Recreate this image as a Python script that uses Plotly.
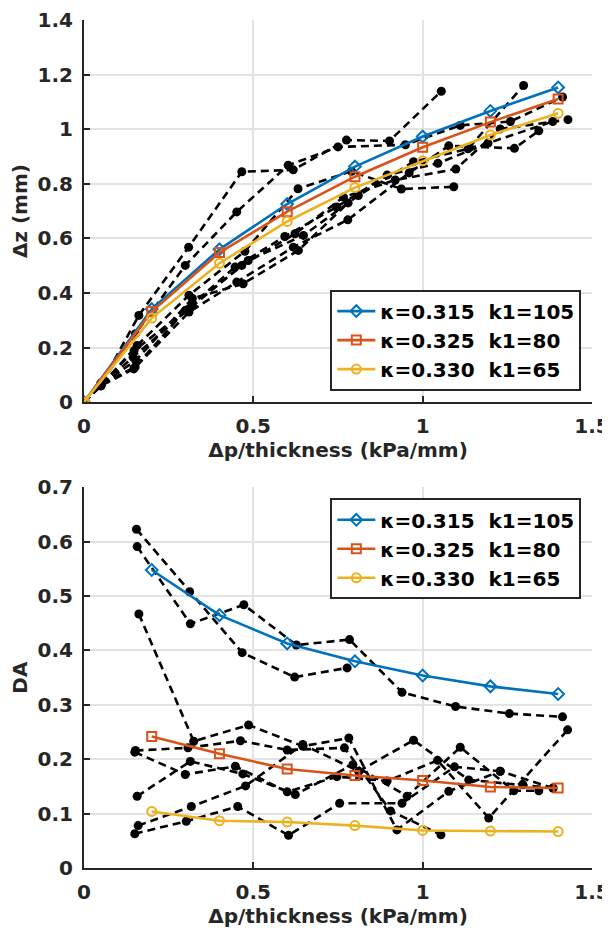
import plotly.graph_objects as go

# ---------------- data ----------------
dp_model = [0, 0.2, 0.4, 0.6, 0.8, 1.0, 1.2, 1.4]
dz_k315 = [0, 0.341, 0.560, 0.726, 0.863, 0.973, 1.067, 1.153]
dz_k325 = [0, 0.332, 0.548, 0.698, 0.826, 0.934, 1.026, 1.111]
dz_k330 = [0, 0.308, 0.509, 0.662, 0.786, 0.884, 0.979, 1.058]

dp_da_model = [0.2, 0.4, 0.6, 0.8, 1.0, 1.2, 1.4]
da_k315 = [0.548, 0.465, 0.413, 0.380, 0.354, 0.334, 0.320]
da_k325 = [0.242, 0.210, 0.182, 0.170, 0.161, 0.149, 0.147]
da_k330 = [0.104, 0.087, 0.0845, 0.078, 0.069, 0.068, 0.067]

model_labels = ["κ=0.315 \u00a0k1=105", "κ=0.325 \u00a0k1=80", "κ=0.330 \u00a0k1=65"]

# experimental samples: Δz vs Δp/thickness
exp_dz_x1 = [0, 0.05, 0.162, 0.309, 0.466, 0.618, 0.775, 0.902, 1.055]
exp_dz_y1 = [0, 0.065, 0.318, 0.568, 0.844, 0.851, 0.960, 0.957, 1.139]
exp_dz_x2 = [0, 0.05, 0.152, 0.299, 0.451, 0.603, 0.750, 0.949, 1.111, 1.259, 1.413]
exp_dz_y2 = [0, 0.070, 0.251, 0.501, 0.697, 0.868, 0.935, 0.943, 1.014, 1.028, 1.118]
exp_dz_x3 = [0, 0.05, 0.157, 0.310, 0.475, 0.632, 0.790, 0.937, 1.092]
exp_dz_y3 = [0, 0.060, 0.208, 0.392, 0.553, 0.782, 0.846, 0.781, 0.789]
exp_dz_x4 = [0, 0.05, 0.148, 0.320, 0.485, 0.648, 0.810, 0.973, 1.134, 1.298]
exp_dz_y4 = [0, 0.065, 0.189, 0.355, 0.519, 0.611, 0.757, 0.881, 0.928, 1.160]
exp_dz_x5 = [0, 0.05, 0.145, 0.310, 0.466, 0.623, 0.766, 0.919, 1.098, 1.229, 1.429]
exp_dz_y5 = [0, 0.060, 0.165, 0.342, 0.501, 0.617, 0.751, 0.814, 0.854, 1.001, 1.035]
exp_dz_x6 = [0, 0.05, 0.151, 0.300, 0.446, 0.593, 0.746, 0.895, 1.045, 1.193, 1.384]
exp_dz_y6 = [0, 0.065, 0.129, 0.337, 0.495, 0.607, 0.715, 0.832, 0.875, 0.949, 1.028]
exp_dz_x7 = [0, 0.05, 0.147, 0.310, 0.451, 0.618, 0.779, 0.960, 1.077, 1.271, 1.343]
exp_dz_y7 = [0, 0.060, 0.122, 0.330, 0.440, 0.568, 0.668, 0.840, 0.939, 0.930, 0.994]
exp_dz_x8 = [0, 0.05, 0.153, 0.320, 0.470, 0.633, 0.780]
exp_dz_y8 = [0, 0.065, 0.153, 0.380, 0.434, 0.556, 0.730]

# experimental samples: DA vs Δp/thickness
exp_da_x1 = [0.155, 0.312, 0.467, 0.622, 0.777]
exp_da_y1 = [0.623, 0.508, 0.396, 0.351, 0.368]
exp_da_x2 = [0.157, 0.314, 0.472, 0.627, 0.784, 0.939, 1.097, 1.256, 1.413]
exp_da_y2 = [0.591, 0.449, 0.484, 0.410, 0.420, 0.323, 0.297, 0.284, 0.278]
exp_da_x3 = [0.162, 0.324, 0.486, 0.646, 0.782, 0.924, 1.077, 1.229, 1.385]
exp_da_y3 = [0.467, 0.233, 0.263, 0.224, 0.239, 0.070, 0.141, 0.178, 0.147]
exp_da_x4 = [0.152, 0.307, 0.462, 0.600, 0.769, 0.905, 1.054]
exp_da_y4 = [0.216, 0.221, 0.234, 0.217, 0.221, 0.105, 0.061]
exp_da_x5 = [0.150, 0.299, 0.447, 0.600, 0.747, 0.895, 1.044, 1.195, 1.428]
exp_da_y5 = [0.213, 0.172, 0.187, 0.140, 0.168, 0.160, 0.198, 0.092, 0.254]
exp_da_x6 = [0.157, 0.314, 0.469, 0.624, 0.794, 0.954, 1.111, 1.269, 1.343]
exp_da_y6 = [0.132, 0.196, 0.173, 0.135, 0.190, 0.132, 0.222, 0.142, 0.142]
exp_da_x7 = [0.160, 0.317, 0.477, 0.646, 0.811, 0.973, 1.136, 1.296, 1.385]
exp_da_y7 = [0.078, 0.113, 0.151, 0.227, 0.178, 0.235, 0.162, 0.153, 0.147]
exp_da_x8 = [0.150, 0.302, 0.454, 0.604, 0.755, 0.939, 1.094, 1.229]
exp_da_y8 = [0.063, 0.086, 0.113, 0.060, 0.119, 0.119, 0.186, 0.178]

exp_dz = [(exp_dz_x1, exp_dz_y1), (exp_dz_x2, exp_dz_y2), (exp_dz_x3, exp_dz_y3),
          (exp_dz_x4, exp_dz_y4), (exp_dz_x5, exp_dz_y5), (exp_dz_x6, exp_dz_y6),
          (exp_dz_x7, exp_dz_y7), (exp_dz_x8, exp_dz_y8)]
exp_da = [(exp_da_x1, exp_da_y1), (exp_da_x2, exp_da_y2), (exp_da_x3, exp_da_y3),
          (exp_da_x4, exp_da_y4), (exp_da_x5, exp_da_y5), (exp_da_x6, exp_da_y6),
          (exp_da_x7, exp_da_y7), (exp_da_x8, exp_da_y8)]

x_ticks = [0, 0.5, 1, 1.5]
x_ticklabels = ["0", "0.5", "1", "1.5"]
dz_ticks = [0, 0.2, 0.4, 0.6, 0.8, 1.0, 1.2, 1.4]
dz_ticklabels = ["0", "0.2", "0.4", "0.6", "0.8", "1", "1.2", "1.4"]
da_ticks = [0, 0.1, 0.2, 0.3, 0.4, 0.5, 0.6, 0.7]
da_ticklabels = ["0", "0.1", "0.2", "0.3", "0.4", "0.5", "0.6", "0.7"]

# ---------------- figure ----------------
colors = ["#0072BD", "#D95319", "#EDB120"]
symbols = ["diamond-open", "square-open", "circle-open"]
FONT = "DejaVu Sans"
AX = "#262626"

fig = go.Figure()

black_line = dict(color="black", width=2.6, dash="8px,5px")
black_marker = dict(color="black", size=9, symbol="circle")

for xs, ys in exp_dz:
    fig.add_trace(go.Scatter(x=xs, y=ys, mode="lines+markers", line=black_line,
                             marker=black_marker, showlegend=False,
                             xaxis="x", yaxis="y"))
for xs, ys in exp_da:
    fig.add_trace(go.Scatter(x=xs, y=ys, mode="lines+markers", line=black_line,
                             marker=black_marker, showlegend=False,
                             xaxis="x2", yaxis="y2"))

for i, ys in enumerate([dz_k315, dz_k325, dz_k330]):
    fig.add_trace(go.Scatter(x=dp_model, y=ys, mode="lines+markers", name=model_labels[i],
                             line=dict(color=colors[i], width=2.6),
                             marker=dict(symbol=symbols[i], size=9, color=colors[i],
                                         line=dict(width=2, color=colors[i])),
                             legend="legend", xaxis="x", yaxis="y"))
for i, ys in enumerate([da_k315, da_k325, da_k330]):
    fig.add_trace(go.Scatter(x=dp_da_model, y=ys, mode="lines+markers", name=model_labels[i],
                             line=dict(color=colors[i], width=2.6),
                             marker=dict(symbol=symbols[i], size=9, color=colors[i],
                                         line=dict(width=2, color=colors[i])),
                             legend="legend2", xaxis="x2", yaxis="y2"))

tickfont = dict(family=FONT, size=20, color=AX, weight="bold")
titlefont = dict(family=FONT, size=20, color=AX, weight="bold")

def axis_style(**kw):
    d = dict(showline=True, linecolor=AX, linewidth=2, mirror=False,
             ticks="inside", ticklen=6, tickwidth=2, tickcolor=AX,
             showgrid=True, gridcolor="#e3e3e3", gridwidth=2, zeroline=False,
             tickfont=tickfont, ticklabelstandoff=5, automargin=False)
    d.update(kw)
    return d

legend_common = dict(bordercolor=AX, borderwidth=2, bgcolor="white",
                     font=dict(family=FONT, size=20, color="black", weight="bold"),
                     itemwidth=38, tracegroupgap=0, xanchor="right", x=0.979)

# the page body adds an 8 px offset, so the figure is 8 px smaller and shifted margins
fig.update_layout(
    width=602, height=929,
    margin=dict(l=76, r=18, t=12, b=69),
    paper_bgcolor="white", plot_bgcolor="white",
    xaxis=axis_style(domain=[0, 1], range=[0, 1.5], tickvals=x_ticks, ticktext=x_ticklabels,
                     anchor="y", title=dict(text="Δp/thickness (kPa/mm)", font=titlefont, standoff=6)),
    yaxis=axis_style(domain=[0.5493, 1], range=[0, 1.4], tickvals=dz_ticks, ticktext=dz_ticklabels,
                     anchor="x", title=dict(text="Δz (mm)", font=titlefont, standoff=8)),
    xaxis2=axis_style(domain=[0, 1], range=[0, 1.5], tickvals=x_ticks, ticktext=x_ticklabels,
                      anchor="y2", title=dict(text="Δp/thickness (kPa/mm)", font=titlefont, standoff=6)),
    yaxis2=axis_style(domain=[0, 0.4489], range=[0, 0.7], tickvals=da_ticks, ticktext=da_ticklabels,
                      anchor="x2", title=dict(text="DA", font=titlefont, standoff=8)),
    legend=dict(legend_common, y=0.563, yanchor="bottom"),
    legend2=dict(legend_common, y=0.436, yanchor="top"),
)

fig.write_html("out.html")
